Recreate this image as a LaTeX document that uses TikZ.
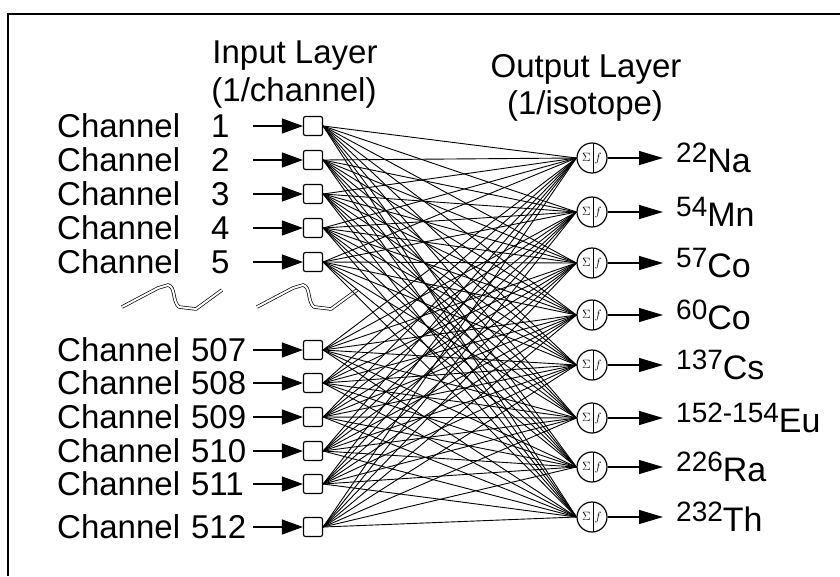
\documentclass[tikz,border=0pt]{standalone}
\usepackage{fontspec}
\setmainfont{Liberation Sans}
\usetikzlibrary{arrows.meta}
\tikzset{wire/.style={line width=0.9pt}}

\begin{document}
\begin{tikzpicture}[x=1pt, y=-1pt, font=\fontsize{33}{36}\selectfont,
    wire/.style={line width=0.9pt},
    chan/.style={anchor=west, inner sep=0pt, text width=196pt, align=left},
    unit/.style={draw, line width=1.2pt, minimum size=19pt, inner sep=0pt, rounded corners=2pt},
    neuron/.style={draw, circle, line width=1.2pt, minimum size=30pt, inner sep=0pt,
        font=\fontsize{12}{12}\selectfont,
        path picture={\draw[line width=1pt] ([xshift=1pt]path picture bounding box.north) -- ([xshift=1pt]path picture bounding box.south);}},
    feed/.style={line width=1.2pt, -{Triangle[length=21pt, width=15pt]}},
    emit/.style={line width=1.2pt, -{Triangle[length=24pt, width=14pt]}},
    iso/.style={anchor=base west, inner sep=0pt, font=\fontsize{34}{36}\selectfont},
    brk/.style={double, double distance=2pt, line width=0.7pt, line join=round}]
    \useasboundingbox (0,0) rectangle (840,576);
    \draw[line width=2pt] (8,576) -- (8,14) -- (840,14);
    % headings
    \node[anchor=base] (inhead) at (295,63) {Input Layer};
    \node[anchor=base] (inunit) at (294,101) {(1/channel)};
    \node[anchor=base] (outhead) at (586,77) {Output Layer};
    \node[anchor=base] (outunit) at (585,114) {(1/isotope)};
    % input layer
    \foreach \i/\y/\n in {1/126/1, 2/160/2, 3/194/3, 4/228/4, 5/262/5} {
        \node[chan] (c\i) at (57,\y) {Channel\makebox[1.5em][r]{\n}};
        \node[unit] (in\i) at (313,\y) {};
        \draw[feed] (c\i.east) -- (in\i.west);
    }
    \foreach \i/\y/\n in {6/350/507, 7/383/508, 8/417/509, 9/451/510, 10/484/511, 11/527/512} {
        \node[chan] (c\i) at (57,\y) {Channel \n};
        \node[unit] (in\i) at (313,\y) {};
        \draw[feed] (c\i.east) -- (in\i.west);
    }
    % break marks
    \draw[brk] (122,307) -- (158,288) -- (168,285) .. controls (176,287) and (172,301) .. (179,307) -- (196,309) -- (222,290);
    \draw[brk] (257,307) -- (293,288) -- (303,285) .. controls (311,287) and (307,301) .. (314,307) -- (331,309) -- (357,290);
    % output layer
    \foreach \j/\y/\m/\el in {1/158/22/Na, 2/212/54/Mn, 3/263/57/Co, 4/315/60/Co,
                              5/365/137/Cs, 6/418/152-154/Eu, 7/467/226/Ra, 8/517/232/Th} {
        \node[neuron] (out\j) at (592,\y) {\(\Sigma\)\hspace{4pt}\(f\)};
        \coordinate (tip\j) at (663,\y);
        \draw[emit] (out\j.east) -- (tip\j);
        \node[iso] (iso\j) at (676,{\y+14}) {\raisebox{10pt}{\fontsize{28}{28}\selectfont\m}\el};
    }
    % weights
    \foreach \i in {1,...,11}
        \foreach \j in {1,...,8}
            \draw[wire] (in\i.east) -- (out\j.west);
\end{tikzpicture}
\end{document}
